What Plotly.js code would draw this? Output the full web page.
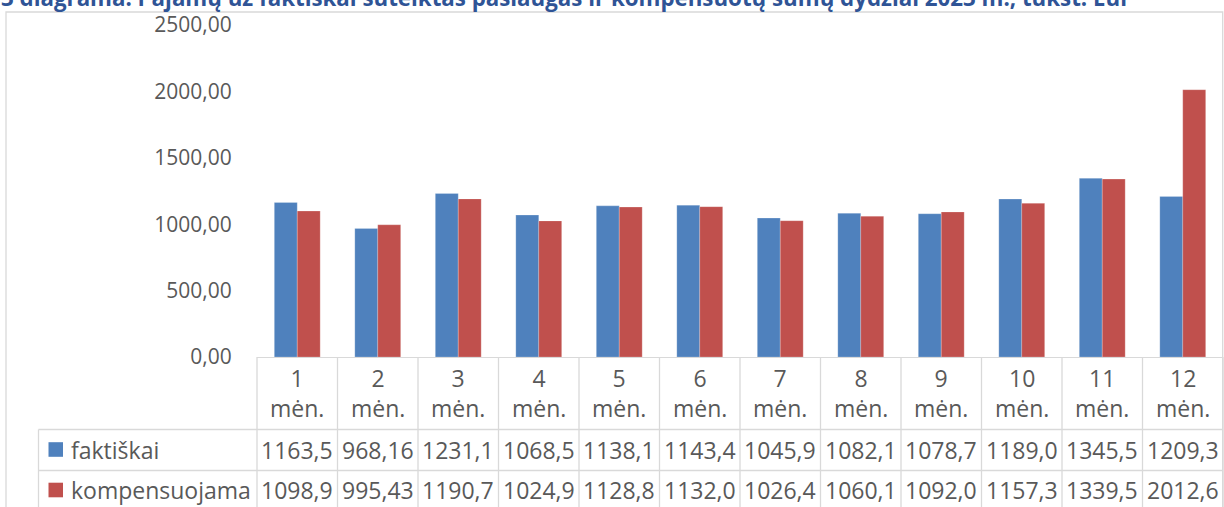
<!DOCTYPE html>
<html>
<head>
<meta charset="utf-8">
<script src="https://cdn.plot.ly/plotly-3.0.1.min.js"></script>
<style>
  html, body { margin: 0; padding: 0; background: #fff; }
  #chart { width: 1224px; height: 507px; }
</style>
</head>
<body>
<div id="chart"></div>
<script>
// ---- data ----
const chartTitle = '3 diagrama. Pajamų už faktiškai suteiktas paslaugas ir kompensuotų sumų dydžiai 2023 m., tūkst. Eur';
const months = ['1 mėn.', '2 mėn.', '3 mėn.', '4 mėn.', '5 mėn.', '6 mėn.', '7 mėn.', '8 mėn.', '9 mėn.', '10 mėn.', '11 mėn.', '12 mėn.'];
const seriesNames = ['faktiškai', 'kompensuojama'];
const faktiskai = [1163.5, 968.16, 1231.1, 1068.5, 1138.1, 1143.4, 1045.9, 1082.1, 1078.7, 1189.0, 1345.5, 1209.3];
const kompensuojama = [1098.9, 995.43, 1190.7, 1024.9, 1128.8, 1132.0, 1026.4, 1060.1, 1092.0, 1157.3, 1339.5, 2012.6];
const yTicks = [0, 500, 1000, 1500, 2000, 2500];

// ---- styles ----
const colors = ['#4F81BD', '#C0504D'];
const textColor = '#595959';
const gridColor = '#D9D9D9';
const FONT = '"Open Sans", "Noto Sans", sans-serif';

const W = 1224, H = 507;
const M = {l: 257, r: 1, t: 25, b: 150};
const PH = H - M.t - M.b, PW = W - M.l - M.r;
const py = px => (H - M.b - px) / PH;   // pixel y -> paper y
const pxx = px => (px - M.l) / PW;      // pixel x -> paper x

function fmt(v) {
  const s = v < 1000 ? v.toFixed(2) : v.toFixed(1);
  return s.replace('.', ',');
}

const seriesValues = [faktiskai, kompensuojama];

const traces = seriesValues.map((vals, i) => ({
  type: 'bar',
  name: seriesNames[i],
  x: months,
  y: vals,
  marker: {color: colors[i], line: {color: 'rgba(255,255,255,0.35)', width: 0.6}},
  hoverinfo: 'x+y+name'
}));

const annotations = [];
const shapes = [];
const TFS = 23;

// chart title (top partly cut, as in the reference)
annotations.push({
  xref: 'paper', yref: 'paper', x: pxx(-1.5), y: py(-3),
  text: '<b>' + chartTitle + '</b>', showarrow: false,
  xanchor: 'left', yanchor: 'middle',
  font: {family: FONT, size: 22.3, color: '#2F5496'}
});

// header row labels (categories)
months.forEach(m => {
  annotations.push({
    xref: 'x', yref: 'paper', x: m, y: py(392.5),
    text: m.replace(' ', '<br>'), showarrow: false,
    xanchor: 'center', yanchor: 'middle',
    font: {family: FONT, size: TFS, color: textColor}
  });
});

// value rows
const rowCenters = [449.5, 490];
seriesValues.forEach((vals, r) => {
  vals.forEach((v, i) => {
    annotations.push({
      xref: 'x', yref: 'paper', x: months[i], y: py(rowCenters[r]),
      text: fmt(v), showarrow: false, xanchor: 'center', yanchor: 'middle',
      font: {family: FONT, size: TFS, color: textColor}
    });
  });
  // legend key + name
  shapes.push({
    type: 'rect', xref: 'paper', yref: 'paper',
    x0: pxx(48.5), x1: pxx(63), y0: py(rowCenters[r] - 7.3), y1: py(rowCenters[r] + 7.3),
    fillcolor: colors[r], line: {width: 0}
  });
  annotations.push({
    xref: 'paper', yref: 'paper', x: pxx(69), y: py(rowCenters[r]),
    text: seriesNames[r], showarrow: false, xanchor: 'left', yanchor: 'middle',
    font: {family: FONT, size: TFS, color: textColor}
  });
});

// table grid lines
const lineStyle = {color: gridColor, width: 1.3};
[429.5, 470.5].forEach(yp => {
  shapes.push({type: 'line', xref: 'paper', yref: 'paper', x0: pxx(38.5), x1: 1, y0: py(yp), y1: py(yp), line: lineStyle});
});
shapes.push({type: 'line', xref: 'paper', yref: 'paper', x0: pxx(38.5), x1: pxx(38.5), y0: py(429.5), y1: py(520), line: lineStyle});
for (let k = 0; k <= months.length; k++) {
  shapes.push({type: 'line', xref: 'x domain', yref: 'paper', x0: k / months.length, x1: k / months.length, y0: 0, y1: py(520), line: lineStyle});
}
// outer chart border
shapes.push({
  type: 'path', xref: 'paper', yref: 'paper',
  path: `M ${pxx(6)} ${py(520)} L ${pxx(6)} ${py(12)} L ${pxx(1222.7)} ${py(12)} L ${pxx(1222.7)} ${py(520)}`,
  line: lineStyle
});

const layout = {
  width: W, height: H,
  margin: M,
  paper_bgcolor: '#fff', plot_bgcolor: '#fff',
  separators: ', ',
  showlegend: false,
  bargap: 0.43, bargroupgap: 0,
  barmode: 'group',
  font: {family: FONT, color: textColor},
  xaxis: {
    type: 'category',
    showticklabels: false, ticks: '',
    showline: true, linecolor: gridColor, linewidth: 1.3,
    showgrid: false, zeroline: false, fixedrange: true
  },
  yaxis: {
    range: [0, 2500],
    tickvals: yTicks, tickformat: '.2f',
    ticks: 'outside', ticklen: 20, tickcolor: 'rgba(0,0,0,0)',
    tickfont: {family: FONT, size: 21, color: textColor},
    showline: false, showgrid: false, zeroline: false, fixedrange: true
  },
  shapes: shapes,
  annotations: annotations
};

Plotly.newPlot('chart', traces, layout, {displayModeBar: false, staticPlot: true});
</script>
</body>
</html>
